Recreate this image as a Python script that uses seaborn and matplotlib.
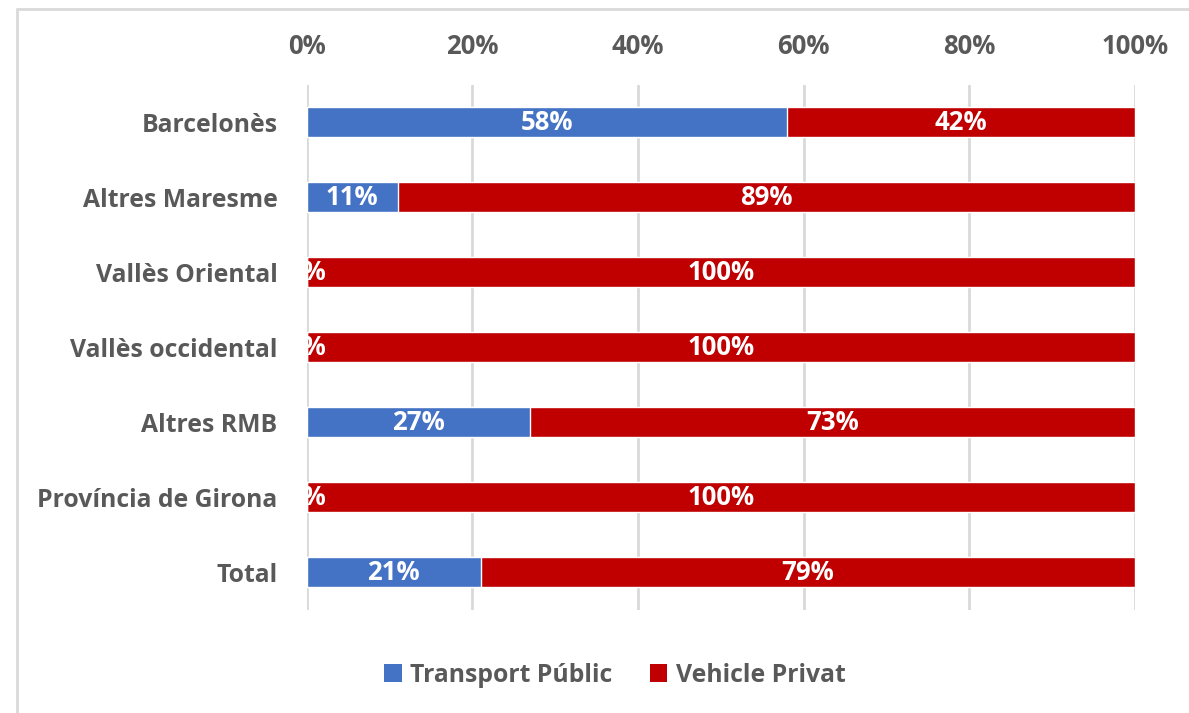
import matplotlib
matplotlib.use("Agg")
import matplotlib.pyplot as plt
from matplotlib.lines import Line2D
from matplotlib.patches import Patch
import seaborn as sns
import pandas as pd

# Modal split by origin area (% of trips)
regions = ["Barcelonès", "Altres Maresme", "Vallès Oriental", "Vallès occidental",
           "Altres RMB", "Província de Girona", "Total"]
transport_public = [58, 11, 0, 0, 27, 0, 21]
vehicle_privat = [42, 89, 100, 100, 73, 100, 79]
x_ticks = [0, 20, 40, 60, 80, 100]
x_tick_labels = ["0%", "20%", "40%", "60%", "80%", "100%"]

BLUE = "#4472C4"
RED = "#C00000"
TEXT = "#595959"
GRID = "#D9D9D9"
FS_CAT = 17.8
FS_NUM = 18.5

sns.set_theme(style="white")
plt.rcParams["font.family"] = ["Open Sans", "DejaVu Sans"]

df = pd.DataFrame({"region": regions,
                   "public": transport_public,
                   "private": vehicle_privat})
df["total"] = df["public"] + df["private"]

fig = plt.figure(figsize=(11.89, 7.13), dpi=100)
ax = fig.add_axes([0.258, 0.145, 0.6966, 0.736])

# Stacked bars: full length in red, public share overlaid from zero in blue
sns.barplot(data=df, x="total", y="region", orient="h", color=RED,
            width=0.4, saturation=1, ax=ax, zorder=3)
sns.barplot(data=df, x="public", y="region", orient="h", color=BLUE,
            width=0.4, saturation=1, ax=ax, zorder=4)

# Value labels centred in each segment
for i, (pub, priv) in enumerate(zip(transport_public, vehicle_privat)):
    ax.text(pub / 2, i, f"{pub}%", ha="center", va="center", color="white",
            fontsize=FS_NUM, fontweight="bold", zorder=6)
    ax.text(pub + priv / 2, i, f"{priv}%", ha="center", va="center",
            color="white", fontsize=FS_NUM, fontweight="bold", zorder=6)

ax.set_xlim(0, 100)
ax.set_ylim(6.5, -0.5)
ax.set_xticks(x_ticks)
ax.set_xticklabels(x_tick_labels)
ax.xaxis.tick_top()
ax.tick_params(axis="x", length=0, pad=18, labelsize=FS_NUM, labelcolor=TEXT)
ax.tick_params(axis="y", length=0, pad=21, labelsize=FS_CAT, labelcolor=TEXT)
for lbl in ax.get_xticklabels() + ax.get_yticklabels():
    lbl.set_fontweight("bold")
ax.set_xlabel("")
ax.set_ylabel("")
ax.grid(axis="x", color=GRID, linewidth=2, zorder=0)
ax.grid(axis="y", visible=False)
for s in ax.spines.values():
    s.set_visible(False)
ax.set_axisbelow(True)

handles = [Patch(facecolor=BLUE, edgecolor="none"),
           Patch(facecolor=RED, edgecolor="none")]
fig.legend(handles, ["Transport Públic", "Vehicle Privat"], loc="center",
           bbox_to_anchor=(0.517, 0.053), ncol=2, frameon=False,
           prop={"size": FS_CAT, "weight": "bold"}, labelcolor=TEXT,
           handlelength=0.72, handleheight=0.72, handletextpad=0.35,
           columnspacing=1.5)

# Chart-area border (top and left edges)
fig.add_artist(Line2D([17 / 1189, 1.0], [1 - 9 / 713, 1 - 9 / 713],
                      transform=fig.transFigure, color=GRID, linewidth=2))
fig.add_artist(Line2D([17 / 1189, 17 / 1189], [0.0, 1 - 9 / 713],
                      transform=fig.transFigure, color=GRID, linewidth=2))

fig.savefig("out.png", dpi=100, facecolor="white")
